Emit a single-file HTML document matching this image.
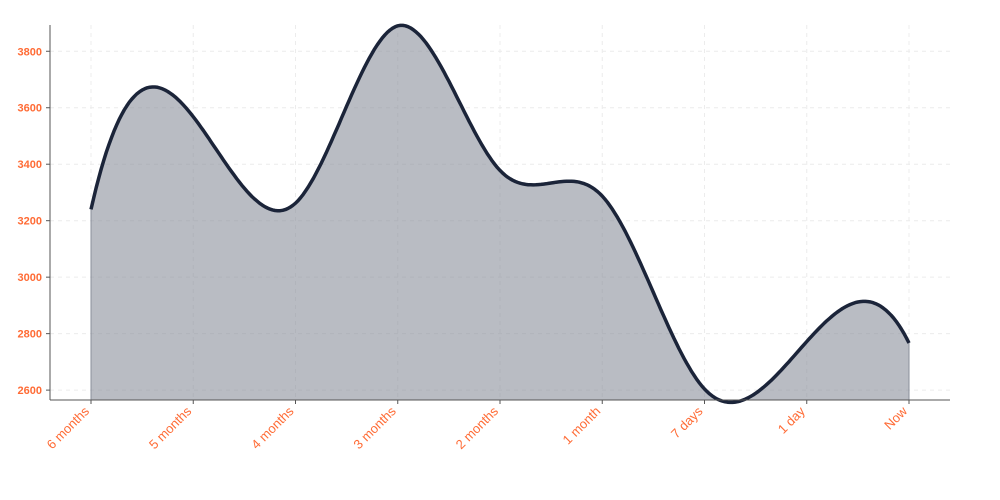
<!DOCTYPE html>
<html><head><meta charset="utf-8"><style>
body{margin:0;background:#fff;width:1000px;height:500px;overflow:hidden}
svg{display:block}
</style></head><body>
<svg id="chart" width="1000" height="500" xmlns="http://www.w3.org/2000/svg"></svg>
<script>
const categories=["6 months","5 months","4 months","3 months","2 months","1 month","7 days","1 day","Now"];
const values=[3240,3568,3262,3890,3378,3287,2604,2772,2767];
const yTicks=[2600,2800,3000,3200,3400,3600,3800];
const X0=91,X1=909,PL=50,PR=950,PT=25,PB=400;
const YMIN=2565,YMAX=3893;
function xs(i){return X0+(X1-X0)*i/(categories.length-1);}
function ys(v){return PB-(v-YMIN)/(YMAX-YMIN)*(PB-PT);}
const svg=document.getElementById('chart');
const NS='http://www.w3.org/2000/svg';
function mk(t,a,p){const e=document.createElementNS(NS,t);for(const k in a)e.setAttribute(k,a[k]);(p||svg).appendChild(e);return e;}
yTicks.forEach(v=>{const l=mk('line',{x1:PL,x2:PR,y1:ys(v),y2:ys(v),stroke:'#ececec','stroke-dasharray':'4,4','stroke-width':1});

});
categories.forEach((c,i)=>{const l=mk('line',{x1:xs(i),x2:xs(i),y1:PT,y2:PB,stroke:'#ececec','stroke-dasharray':'4,4','stroke-width':1});

});
const n=values.length,X=values.map((_,i)=>xs(i)),Y=values.slice(),h=X[1]-X[0];
const A=[],R=[];
for(let i=0;i<n;i++){A.push(new Array(n).fill(0));R.push(0);}
A[0][0]=1;A[0][1]=-2;A[0][2]=1;
A[n-1][n-3]=1;A[n-1][n-2]=-2;A[n-1][n-1]=1;
for(let i=1;i<n-1;i++){A[i][i-1]=1;A[i][i]=4;A[i][i+1]=1;R[i]=6*(Y[i+1]-2*Y[i]+Y[i-1])/(h*h);}
for(let i=0;i<n;i++){let p=i;for(let r=i+1;r<n;r++)if(Math.abs(A[r][i])>Math.abs(A[p][i]))p=r;
[A[i],A[p]]=[A[p],A[i]];[R[i],R[p]]=[R[p],R[i]];
for(let r=0;r<n;r++){if(r===i)continue;const f=A[r][i]/A[i][i];for(let k=i;k<n;k++)A[r][k]-=f*A[i][k];R[r]-=f*R[i];}}
const M=R.map((r,i)=>r/A[i][i]);
let pts=[];
for(let j=0;j<n-1;j++){for(let s=0;s<40;s++){const t=s/40,a=1-t;
const v=a*Y[j]+t*Y[j+1]+((a*a*a-a)*M[j]+(t*t*t-t)*M[j+1])*h*h/6;pts.push([X[j]+t*h,v]);}}
pts.push([X[n-1],Y[n-1]]);
const line=pts.map((p,i)=>(i?'L':'M')+p[0].toFixed(1)+','+ys(p[1]).toFixed(1)).join('');
const area=mk('path',{d:line+'L'+X[n-1]+','+PB+'L'+X[0]+','+PB+'Z',fill:'#8a8f9b','fill-opacity':0.6,stroke:'#8a8f9b','stroke-width':1});


const ln=mk('path',{d:line,fill:'none',stroke:'#1b2439','stroke-width':3.5,'stroke-linejoin':'round'});


const ax=mk('line',{x1:PL,x2:PL,y1:PT,y2:PB,stroke:'#555','stroke-width':1});


const bx=mk('line',{x1:PL,x2:PR,y1:PB,y2:PB,stroke:'#555','stroke-width':1});


yTicks.forEach(v=>{mk('line',{x1:PL-4,x2:PL,y1:ys(v),y2:ys(v),stroke:'#555'});
const t=mk('text',{x:PL-8,y:ys(v)+4,'text-anchor':'end','font-family':'Liberation Sans, sans-serif','font-size':11,'font-weight':'bold',fill:'#ff6b35'});
t.textContent=v;

});
categories.forEach((cat,i)=>{mk('line',{x1:xs(i),x2:xs(i),y1:PB,y2:PB+4,stroke:'#555'});
const x=xs(i)-1,y=PB+12;
const t=mk('text',{x:x,y:y,'text-anchor':'end',transform:'rotate(-45 '+x+' '+y+')','font-family':'Liberation Sans, sans-serif','font-size':13,fill:'#ff6b35'});
t.textContent=cat;

});
</script>
</body></html>
